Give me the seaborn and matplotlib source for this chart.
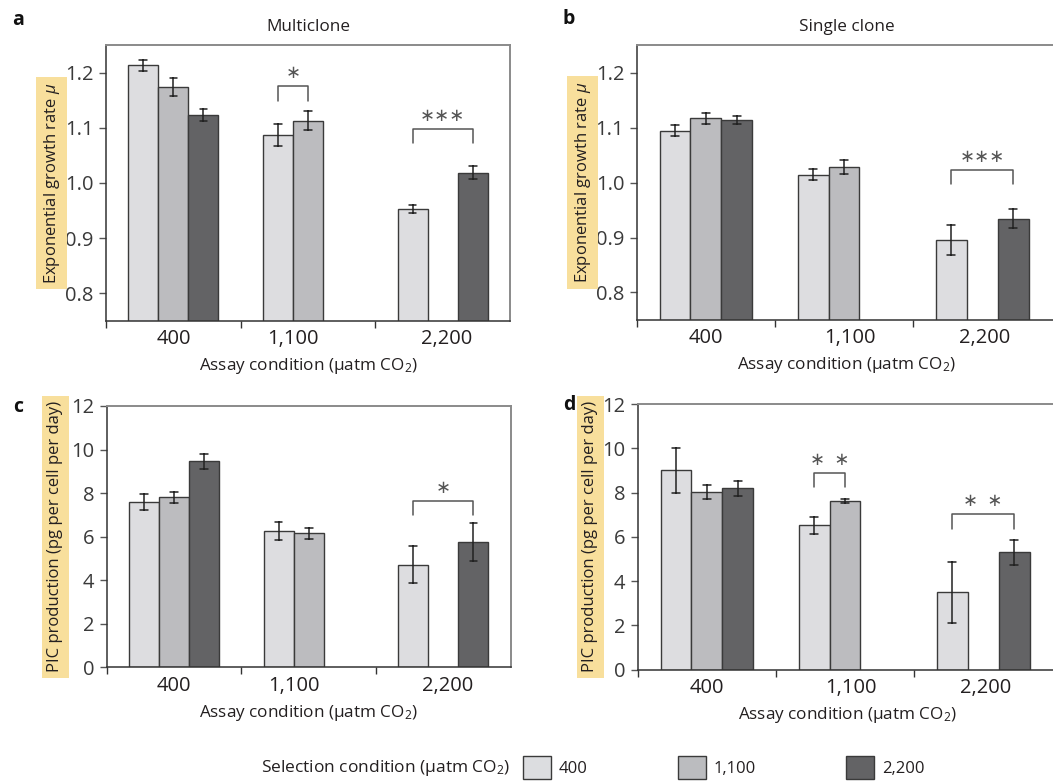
import pandas as pd
import seaborn as sns
import matplotlib.pyplot as plt
from matplotlib.patches import Patch

# === data ===
assay = ["400", "1,100", "2,200"]
selection = ["400", "1,100", "2,200"]

# (assay, selection) pairs that have a bar, same order for every panel
pairs = [("400", "400"), ("400", "1,100"), ("400", "2,200"),
         ("1,100", "400"), ("1,100", "1,100"),
         ("2,200", "400"), ("2,200", "2,200")]

growth_multi = [1.213, 1.174, 1.123, 1.087, 1.113, 0.953, 1.019]
growth_multi_err = [0.010, 0.017, 0.011, 0.020, 0.017, 0.007, 0.011]
growth_single = [1.094, 1.117, 1.114, 1.014, 1.028, 0.895, 0.934]
growth_single_err = [0.010, 0.010, 0.007, 0.010, 0.013, 0.027, 0.017]
pic_multi = [7.6, 7.8, 9.45, 6.25, 6.15, 4.7, 5.75]
pic_multi_err = [0.38, 0.25, 0.33, 0.40, 0.25, 0.85, 0.89]
pic_single = [9.0, 8.03, 8.19, 6.53, 7.61, 3.5, 5.3]
pic_single_err = [1.0, 0.33, 0.34, 0.38, 0.10, 1.37, 0.58]

# significance brackets: (assay index, left hue slot, right hue slot, top, leg bottom, label)
brackets_a = [(1, 0, 1, 1.175, 1.149, "∗"), (2, 0, 2, 1.098, 1.073, "∗∗∗")]
brackets_b = [(2, 0, 2, 1.023, 0.998, "∗∗∗")]
brackets_c = [(2, 0, 2, 7.65, 7.0, "∗")]
brackets_d = [(1, 0, 1, 8.9, 8.24, "∗  ∗"), (2, 0, 2, 7.02, 6.36, "∗  ∗")]

palette = ["#dcdde0", "#bbbcbf", "#636365"]
highlight = "#f8df9c"

sns.set_style("ticks")
plt.rcParams["font.family"] = ["Open Sans", "DejaVu Sans"]
plt.rcParams["mathtext.fontset"] = "custom"
plt.rcParams["mathtext.rm"] = "Open Sans"
plt.rcParams["mathtext.it"] = "Open Sans:italic"
text_col = "#231f20"

fig = plt.figure(figsize=(10.53, 7.81), dpi=100)

BAR_W = 0.67


def long_table(vals, errs):
    rows = []
    for (a, s), v, e in zip(pairs, vals, errs):
        rows.append({"assay": a, "sel": s, "val": v - e})
        rows.append({"assay": a, "sel": s, "val": v + e})
    return pd.DataFrame(rows)


def draw_panel(rect, vals, errs, ylim, yticks, ylabel, brackets, letter_xy, letter,
               title=None, label_x=-0.14, label_shift=(0, 0, 0), open_right=False,
               decimals=True):
    ax = fig.add_axes(rect)
    df = long_table(vals, errs)
    sns.barplot(data=df, x="assay", y="val", hue="sel", order=assay,
                hue_order=selection, palette=palette, width=BAR_W, gap=0,
                estimator="mean", errorbar=lambda x: (x.min(), x.max()),
                capsize=0.17, err_kws={"color": "#222222", "linewidth": 1.1},
                edgecolor="#3a3a3a", linewidth=1.0, legend=False, ax=ax)
    ax.set_ylim(*ylim)
    ax.set_yticks(yticks)
    ax.set_xlim(-0.5, 2.54 if open_right else 2.5)

    # group labels with no tick, small separator ticks between groups
    ax.set_xticks([i + s for i, s in enumerate(label_shift)])
    ax.set_xticklabels(assay)
    ax.set_xticks([-0.5, 0.5, 1.5], minor=True)
    ax.tick_params(axis="x", which="major", length=0, pad=6, labelsize=14.5,
                   labelcolor=text_col)
    ax.tick_params(axis="x", which="minor", length=5, width=1, color="#333333",
                   direction="out")
    ax.tick_params(axis="y", length=5, width=1, color="#555555", labelsize=14.5,
                   labelcolor="#3a3a3a", pad=4)
    if decimals:
        ax.yaxis.set_major_formatter(plt.FormatStrFormatter("%.1f"))
    else:
        ax.yaxis.set_major_formatter(plt.FormatStrFormatter("%d"))

    for side in ["left", "bottom"]:
        ax.spines[side].set_color("#333333")
        ax.spines[side].set_linewidth(1.1)
    for side in ["top", "right"]:
        ax.spines[side].set_visible(True)
        ax.spines[side].set_color("#8a8a8a")
        ax.spines[side].set_linewidth(1.4)
    if open_right:
        ax.spines["right"].set_visible(False)

    ax.set_xlabel("Assay condition (μatm CO$_2$)", fontsize=12.3, color=text_col,
                  labelpad=5)
    ax.set_ylabel(ylabel, fontsize=12, color=text_col,
                  bbox=dict(facecolor=highlight, edgecolor="none", pad=4))
    ax.yaxis.set_label_coords(label_x, 0.5)

    # significance brackets above the compared bars
    slot_w = BAR_W / len(selection)
    for g, i0, i1, top, bot, lab in brackets:
        x0 = g + (i0 - 1) * slot_w
        x1 = g + (i1 - 1) * slot_w
        ax.plot([x0, x0, x1, x1], [bot, top, top, bot], color="#555555", lw=1.1)
        ax.text((x0 + x1) / 2, top + (ylim[1] - ylim[0]) * 0.015, lab,
                ha="center", va="bottom", fontsize=13, color="#555555")

    if title:
        ax.set_title(title, fontsize=12.3, color=text_col, pad=10)
    fig.text(letter_xy[0] / 1053, 1 - letter_xy[1] / 781, letter, fontsize=14,
             fontweight="bold", color="#111111", ha="center", va="center")
    return ax


mu_label = "Exponential growth rate $\\mu$"
pic_label = "PIC production (pg per cell per day)"

draw_panel([0.1007, 0.589, 0.3837, 0.3534], growth_multi, growth_multi_err,
           (0.75, 1.25), [0.8, 0.9, 1.0, 1.1, 1.2], mu_label, brackets_a, (18, 20), "a",
           title="Multiclone", label_x=-0.109, label_shift=(0, -0.11, 0.03))
draw_panel([0.6047, 0.5903, 0.3990, 0.352], growth_single, growth_single_err,
           (0.75, 1.25), [0.8, 0.9, 1.0, 1.1, 1.2], mu_label, brackets_b, (569, 19), "b",
           title="Single clone", label_x=-0.105, label_shift=(0, 0.04, 0.02),
           open_right=True)
draw_panel([0.1013, 0.1456, 0.3837, 0.3346], pic_multi, pic_multi_err,
           (0, 12), [0, 2, 4, 6, 8, 10, 12], pic_label, brackets_c, (18, 407), "c",
           label_x=-0.108, label_shift=(0, -0.11, 0.03), decimals=False)
draw_panel([0.6056, 0.1425, 0.3990, 0.3402], pic_single, pic_single_err,
           (0, 12), [0, 2, 4, 6, 8, 10, 12], pic_label, brackets_d, (569, 405), "d",
           label_x=-0.094, label_shift=(0, 0.04, 0.02), open_right=True, decimals=False)

# legend along the bottom
fig.text(510 / 1053, 0.017, "Selection condition (μatm CO$_2$)", ha="right",
         va="center", fontsize=12.5, color=text_col)
handles = [Patch(facecolor=c, edgecolor="#3a3a3a", linewidth=1.0) for c in palette]
fig.legend(handles, selection, loc="center left", bbox_to_anchor=(523 / 1053, 0.017),
           ncol=3, frameon=False, handlelength=1.7, handleheight=1.7,
           handletextpad=0.45, columnspacing=5.4, borderpad=0, borderaxespad=0,
           fontsize=12, labelcolor=text_col)

fig.savefig("out.png", dpi=100)
